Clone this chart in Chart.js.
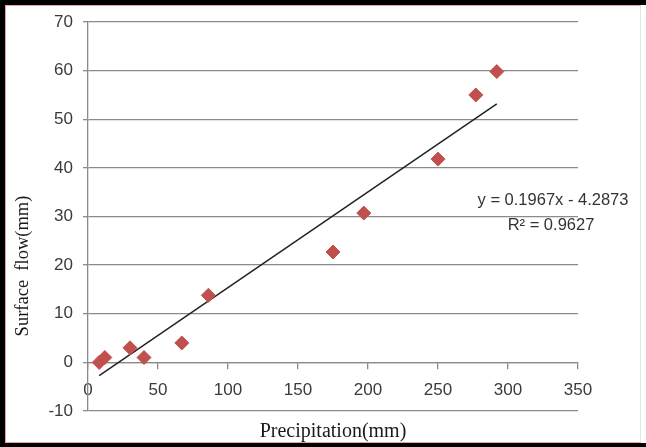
<!DOCTYPE html>
<html>
<head>
<meta charset="utf-8">
<script src="https://cdn.jsdelivr.net/npm/chart.js@4.4.0/dist/chart.umd.min.js"></script>
<style>
html, body { margin: 0; padding: 0; background: #fff; }
#wrap { position: relative; width: 646px; height: 447px; overflow: hidden; }
#wrap canvas { position: absolute; left: 0; top: 0; }
#frame { position: absolute; left: 0; top: 0; width: 646px; height: 447px; box-sizing: border-box;
  border-top: 5px solid #000; border-left: 5px solid #000; border-bottom: 4px solid #000; pointer-events: none; }
#inner { position: absolute; left: 5px; top: 5px; width: 636px; height: 438px; box-sizing: border-box;
  border: 1px solid #eaa0a0; border-right-color: #e6e6e6; pointer-events: none; }
</style>
</head>
<body>
<div id="wrap">
  <canvas id="chart" width="646" height="447"></canvas>
  <div id="frame"></div>
  <div id="inner"></div>
</div>
<script>
// observed points
const precipitation = [8, 12, 30, 40, 67, 86, 175, 197, 250, 277, 292];
const surfaceFlow = [0, 1, 3, 1, 4, 13.8, 22.7, 30.7, 41.8, 55, 59.8];

// axis ticks
const xTicks = [0, 50, 100, 150, 200, 250, 300, 350];
const yTicks = [-10, 0, 10, 20, 30, 40, 50, 60, 70];

// linear fit shown on the chart
const slope = 0.1967;
const intercept = -4.2873;
const rSquared = 0.9627;

const xMin = Math.min(...precipitation);
const xMax = Math.max(...precipitation);
const trendX = [xMin, xMax];

const points = precipitation.map((p, i) => ({ x: p, y: surfaceFlow[i] }));
const trend = trendX.map(v => ({ x: v, y: slope * v + intercept }));

const GRID = '#8a8a8a';
const TICK_FONT = { family: '"Liberation Sans", Arial, sans-serif', size: 17 };

const textPlugin = {
  id: 'texts',
  afterDraw(chart) {
    const ctx = chart.ctx;
    ctx.save();
    ctx.fillStyle = '#333';
    ctx.font = '16.5px "Liberation Sans", Arial, sans-serif';
    ctx.textAlign = 'center';
    ctx.textBaseline = 'middle';
    const sign = intercept < 0 ? '- ' : '+ ';
    ctx.fillText('y = ' + slope.toFixed(4) + 'x ' + sign + Math.abs(intercept).toFixed(4), 553, 200);
    ctx.fillText('R\u00B2 = ' + rSquared.toFixed(4), 551, 225);

    ctx.fillStyle = '#1a1a1a';
    ctx.font = '20px "Liberation Serif", "Times New Roman", serif';
    ctx.fillText('Precipitation(mm)', 333, 432);

    ctx.font = '18.5px "Liberation Serif", "Times New Roman", serif';
    ctx.translate(23, 266);
    ctx.rotate(-Math.PI / 2);
    ctx.fillText('Surface  flow(mm)', 0, 0);
    ctx.restore();
  }
};

new Chart(document.getElementById('chart'), {
  type: 'scatter',
  data: {
    datasets: [
      {
        label: 'Surface flow',
        data: points,
        pointStyle: 'rectRot',
        pointRadius: 7,
        backgroundColor: '#c0504d',
        borderColor: '#c0504d',
        borderWidth: 1
      },
      {
        type: 'line',
        label: 'Linear',
        data: trend,
        borderColor: '#222',
        borderWidth: 1.5,
        pointRadius: 0,
        fill: false
      }
    ]
  },
  options: {
    responsive: false,
    animation: false,
    layout: { padding: { left: 0, right: 68, top: 22, bottom: 36 } },
    plugins: { legend: { display: false }, tooltip: { enabled: false } },
    scales: {
      x: {
        type: 'linear',
        position: { y: 0 },
        min: 0,
        max: 350,
        afterBuildTicks: s => { s.ticks = xTicks.map(v => ({ value: v })); },
        grid: { drawOnChartArea: false, drawTicks: true, tickLength: 6, color: GRID, lineWidth: 1.3 },
        border: { display: true, color: GRID, width: 1.3 },
        ticks: { color: '#3a3a3a', font: TICK_FONT, padding: 12, maxRotation: 0 }
      },
      y: {
        type: 'linear',
        min: -10,
        max: 70,
        afterBuildTicks: s => { s.ticks = yTicks.map(v => ({ value: v })); },
        afterFit: s => { s.width = 88; },
        grid: { color: GRID, lineWidth: 1.3, tickLength: 5 },
        border: { display: true, color: GRID, width: 1.3 },
        ticks: { color: '#3a3a3a', font: TICK_FONT, padding: 10 }
      }
    }
  },
  plugins: [textPlugin]
});
</script>
</body>
</html>
